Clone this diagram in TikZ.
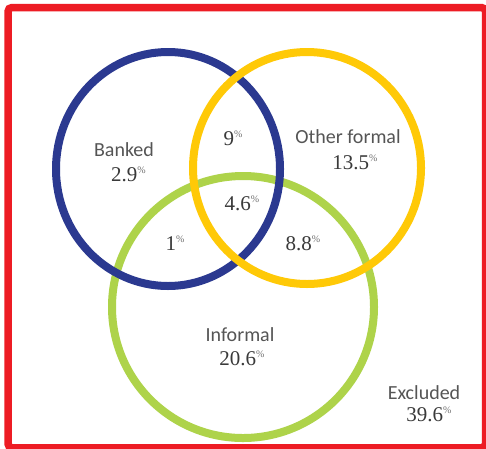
\documentclass[tikz,border=0pt]{standalone}
\usepackage{fontspec}
\setmainfont{Liberation Serif}
\newfontfamily\labelfont{Carlito}
\definecolor{frameRed}{HTML}{ED1C24}
\definecolor{bankBlue}{HTML}{2B3990}
\definecolor{formalYellow}{HTML}{FFC907}
\definecolor{informalGreen}{HTML}{AED34A}
\definecolor{labelGray}{HTML}{555555}
\definecolor{numGray}{HTML}{3A3A3A}
\definecolor{pctGray}{HTML}{707070}
% value with a small raised percent sign
\newcommand\share[1]{#1\raisebox{8pt}{\fontsize{10}{10}\selectfont\color{pctGray}\%}}
\begin{document}
\begin{tikzpicture}[x=1pt,y=-1pt,
  ring/.style={line width=8pt},
  lbl/.style={anchor=base,inner sep=0pt,text=labelGray,font=\labelfont\fontsize{20}{20}\selectfont},
  num/.style={anchor=base,inner sep=0pt,text=numGray,font=\fontsize{21}{21}\selectfont}]
\useasboundingbox (0,0) rectangle (486,448);
\clip (0,0) rectangle (486,448);
\fill[white] (0,0) rectangle (486,448);
% outer frame
\draw[frameRed,line width=7.5pt,rounded corners=4pt] (8,7.5) rectangle (485.5,447.8);
% the three sets
\coordinate (cInformal) at (243,307);
\coordinate (cBanked) at (168,169);
\coordinate (cFormal) at (307,168);
\draw[ring,informalGreen] (cInformal) ellipse [x radius=131, y radius=131];
\draw[ring,bankBlue] (cBanked) ellipse [x radius=112, y radius=117];
\draw[ring,formalYellow] (cFormal) ellipse [x radius=114, y radius=116];
% labels and shares
\node[lbl] (banked) at (124,156) {Banked};
\node[num] (vBanked) at (128.5,181) {\share{2.9}};
\node[num] (vBF) at (233,145) {\share{9}};
\node[lbl] (formal) at (348,143) {Other formal};
\node[num] (vFormal) at (355,169) {\share{13.5}};
\node[num] (vAll) at (242,210) {\share{4.6}};
\node[num] (vBI) at (175,250) {\share{1}};
\node[num] (vFI) at (303,250) {\share{8.8}};
\node[lbl] (informal) at (240,341.5) {Informal};
\node[num] (vInformal) at (242,365) {\share{20.6}};
\node[lbl] (excluded) at (424,399) {Excluded};
\node[num] (vExcluded) at (429,421) {\share{39.6}};
\end{tikzpicture}
\end{document}
